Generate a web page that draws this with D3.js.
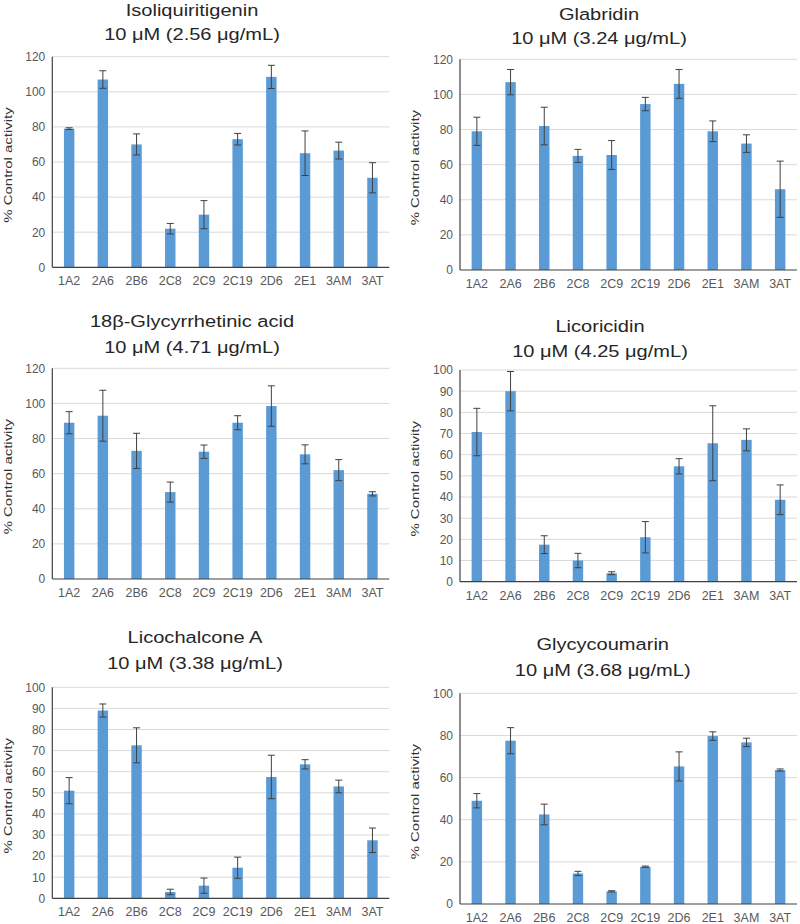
<!DOCTYPE html>
<html><head><meta charset="utf-8">
<script src="https://cdn.jsdelivr.net/npm/d3@7"></script>
<style>body{margin:0;background:#fff} svg{display:block;font-family:"Liberation Sans",Arial,sans-serif}</style>
</head><body><svg id="c" width="800" height="924"></svg>
<script>
// ---------- data ----------
const categories = ["1A2","2A6","2B6","2C8","2C9","2C19","2D6","2E1","3AM","3AT"];
const compoundNames = ["Isoliquiritigenin","Glabridin","18β-Glycyrrhetinic acid","Licoricidin","Licochalcone A","Glycycoumarin"];
const concentrationLabels = ["10 μM (2.56 μg/mL)","10 μM (3.24 μg/mL)","10 μM (4.71 μg/mL)","10 μM (4.25 μg/mL)","10 μM (3.38 μg/mL)","10 μM (3.68 μg/mL)"];
const yAxisTitle = "% Control activity";

const isoliquiritigeninMeans  = [79, 107, 70, 22, 30, 73, 108.5, 65, 66.5, 51];
const isoliquiritigeninErrors = [0.5, 5, 6, 3, 8, 3.3, 6.6, 12.7, 4.8, 8.6];
const glabridinMeans  = [79, 107, 82, 65, 65.5, 94.5, 106, 79, 72, 46];
const glabridinErrors = [8, 7.2, 10.7, 3.7, 8.2, 3.8, 8.2, 5.9, 5, 16];
const glycyrrhetinicMeans  = [89, 93, 73, 49.5, 72.5, 89, 98.5, 71, 62, 48.5];
const glycyrrhetinicErrors = [6.3, 14.5, 10, 5.7, 3.8, 4, 11.5, 5.4, 6, 1.2];
const licoricidinMeans  = [70.7, 90, 17.5, 10, 4, 21, 54.5, 65.4, 67, 38.7];
const licoricidinErrors = [11.2, 9.3, 4.2, 3.4, 0.7, 7.4, 3.6, 17.7, 5.2, 7];
const licochalconeMeans  = [51, 89, 72.5, 3, 6, 14.5, 57.5, 63.5, 53, 27.5];
const licochalconeErrors = [6.2, 3.1, 8.3, 1.3, 3.6, 5, 10.3, 2.2, 3, 5.8];
const glycycoumarinMeans  = [49, 77.5, 42.5, 14.5, 6, 17.7, 65.3, 79.7, 76.7, 63.6];
const glycycoumarinErrors = [3.4, 6.2, 4.9, 1, 0.3, 0.3, 6.9, 2, 2, 0.5];

const yMaxima = [120, 120, 120, 100, 100, 100];
const yTickSteps = [20, 20, 20, 10, 10, 20];

const panelMeans  = [isoliquiritigeninMeans, glabridinMeans, glycyrrhetinicMeans, licoricidinMeans, licochalconeMeans, glycycoumarinMeans];
const panelErrors = [isoliquiritigeninErrors, glabridinErrors, glycyrrhetinicErrors, licoricidinErrors, licochalconeErrors, glycycoumarinErrors];

// ---------- layout ----------
const plotW = 337;
const layout = [
  {x0: 52.3, yTop: 56.7,  yBot: 267.3, tx: 192,   t1: 16,    t2: 40},
  {x0: 460,  yTop: 59.3,  yBot: 270,   tx: 599,   t1: 20,    t2: 44},
  {x0: 52.3, yTop: 368.3, yBot: 579,   tx: 192,   t1: 327,   t2: 353},
  {x0: 460,  yTop: 370,   yBot: 581.7, tx: 600,   t1: 331.7, t2: 356.7},
  {x0: 52.3, yTop: 687.3, yBot: 898.3, tx: 195,   t1: 643,   t2: 669},
  {x0: 460,  yTop: 693.3, yBot: 904,   tx: 602.7, t1: 650,   t2: 675.7}
];

const barColor = "#5B9BD5";
const svg = d3.select("#c");

layout.forEach((L, i) => {
  const means = panelMeans[i], errs = panelErrors[i];
  const x = d3.scaleBand().domain(categories).range([L.x0, L.x0 + plotW])
    .paddingInner(0.69).paddingOuter(0.345);
  const y = d3.scaleLinear().domain([0, yMaxima[i]]).range([L.yBot, L.yTop]);
  const ticks = d3.range(0, yMaxima[i] + 0.001, yTickSteps[i]);
  const g = svg.append("g");

  // gridlines
  g.selectAll("line.grid").data(ticks.filter(t => t > 0)).join("line")
    .attr("x1", L.x0).attr("x2", L.x0 + plotW)
    .attr("y1", d => y(d)).attr("y2", d => y(d))
    .attr("stroke", "#d9d9d9").attr("stroke-width", 1);

  // y tick labels
  const yAxis = d3.axisLeft(y).tickValues(ticks).tickSize(0).tickPadding(7);
  const ya = g.append("g").attr("transform", `translate(${L.x0},0)`).call(yAxis);
  ya.select(".domain").remove();
  ya.selectAll("text").attr("font-size", 12).attr("fill", "#595959")
    .attr("font-family", "Liberation Sans, Arial, sans-serif");

  // bars
  g.selectAll("rect").data(means).join("rect")
    .attr("x", (d, j) => x(categories[j]))
    .attr("width", x.bandwidth())
    .attr("y", d => y(d))
    .attr("height", d => y(0) - y(d))
    .attr("fill", barColor);

  // error bars
  const cx = j => x(categories[j]) + x.bandwidth() / 2;
  const eb = g.append("g").attr("stroke", "#404040").attr("stroke-width", 1).attr("fill", "none");
  means.forEach((m, j) => {
    const lo = y(m - errs[j]), hi = y(m + errs[j]), c = cx(j);
    eb.append("line").attr("x1", c).attr("x2", c).attr("y1", lo).attr("y2", hi);
    eb.append("line").attr("x1", c - 3.5).attr("x2", c + 3.5).attr("y1", hi).attr("y2", hi);
    eb.append("line").attr("x1", c - 3.5).attr("x2", c + 3.5).attr("y1", lo).attr("y2", lo);
  });

  // axis lines
  g.append("line").attr("x1", L.x0).attr("x2", L.x0).attr("y1", L.yTop).attr("y2", L.yBot)
    .attr("stroke", "#404040").attr("stroke-width", 1.2);
  g.append("line").attr("x1", L.x0).attr("x2", L.x0 + plotW).attr("y1", L.yBot).attr("y2", L.yBot)
    .attr("stroke", "#404040").attr("stroke-width", 1.2);

  // x labels
  const xAxis = d3.axisBottom(x).tickSize(0).tickPadding(9);
  const xa = g.append("g").attr("transform", `translate(0,${L.yBot})`).call(xAxis);
  xa.select(".domain").remove();
  xa.selectAll("text").attr("font-size", 12.5).attr("fill", "#595959")
    .attr("font-family", "Liberation Sans, Arial, sans-serif");

  // titles
  [[compoundNames[i], L.t1], [concentrationLabels[i], L.t2]].forEach(([txt, ty]) => {
    g.append("text").attr("transform", `translate(${L.tx},${ty}) scale(1.18,1)`)
      .attr("text-anchor", "middle").attr("font-size", 17).attr("fill", "#262626").text(txt);
  });

  // y axis title
  const lx = L.x0 < 200 ? 12 : 419;
  const ly = (L.yTop + L.yBot) / 2 + 3;
  g.append("text").attr("transform", `translate(${lx},${ly}) rotate(-90) scale(1.3,1)`)
    .attr("text-anchor", "middle").attr("font-size", 11.5).attr("fill", "#333").text(yAxisTitle);
});
</script>
</body></html>
